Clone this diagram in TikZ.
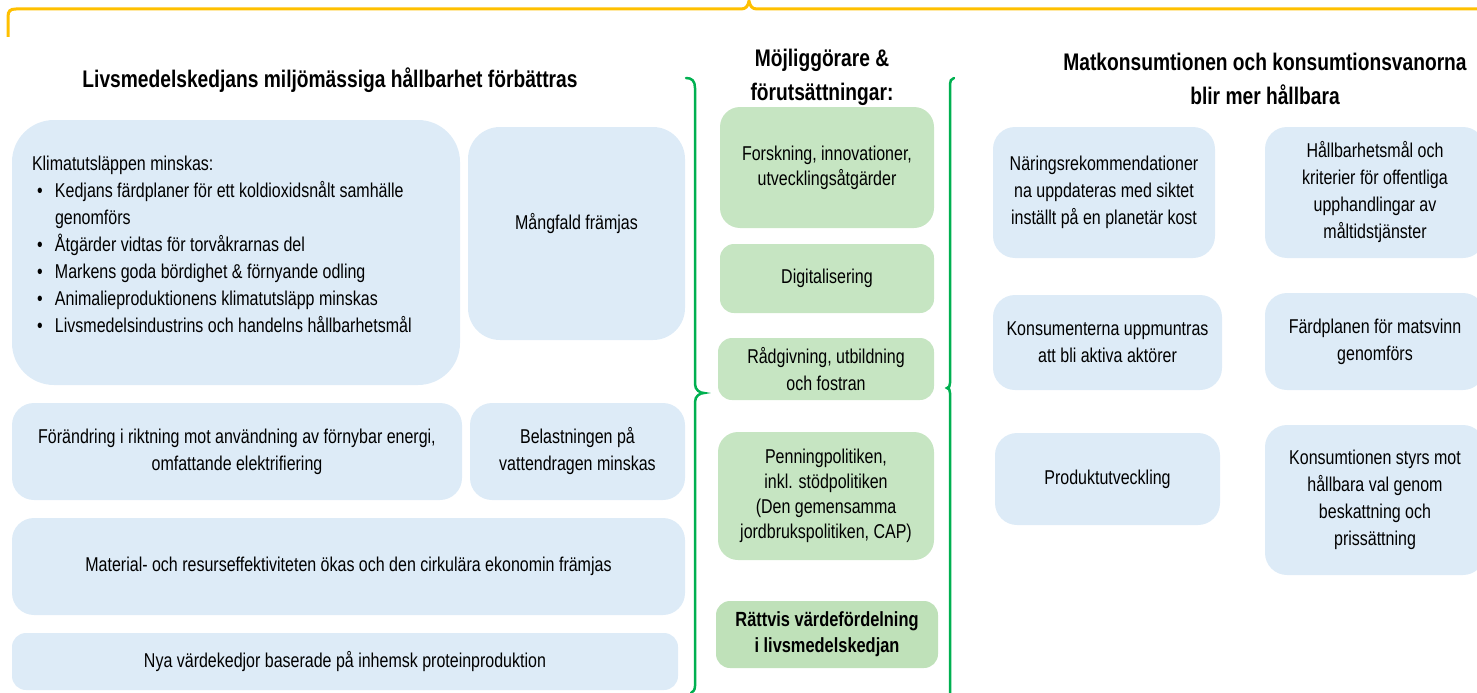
\documentclass[tikz,border=0pt]{standalone}
\usepackage{fontspec}
\setmainfont[FakeStretch=0.8]{Liberation Sans}
\definecolor{boxblue}{HTML}{DDEBF7}
\definecolor{boxgreen}{HTML}{C6E5C2}
\definecolor{boxgreendark}{HTML}{BFE1B9}
\definecolor{bracegreen}{HTML}{00B050}
\definecolor{braceorange}{HTML}{FFC000}
\begin{document}
\begin{tikzpicture}[x=1pt,y=-1pt,
bluebox/.style={fill=boxblue,rounded corners=22pt,align=center,inner sep=0pt,font=\fontsize{20}{27}\selectfont},
greenbox/.style={fill=boxgreen,rounded corners=20pt,align=center,inner sep=0pt,font=\fontsize{20}{25}\selectfont},
heading/.style={font=\bfseries\fontsize{24}{34}\selectfont,align=center},
bracket/.style={line width=2.5pt,color=bracegreen,line cap=round}]
\useasboundingbox (0,0) rectangle (1477,693);
\clip (0,0) rectangle (1477,693);

\draw[line width=3pt,color=braceorange] (8,37) -- (8,17) .. controls (8,11) and (10,9) .. (16,9) -- (741,9) .. controls (746,9) and (748,6) .. (749,1) .. controls (750,6) and (752,9) .. (757,9) -- (1490,9);

\node[heading] (lefttitle) at (330,80) {Livsmedelskedjans miljömässiga hållbarhet förbättras};
\node[heading] (midtitle) at (822,77) {Möjliggörare \&\\förutsättningar:};
\node[heading] (righttitle) at (1265,79) {Matkonsumtionen och konsumtionsvanorna\\blir mer hållbara};

\node[bluebox,rounded corners=42pt,minimum width=448pt,minimum height=265pt,text width=408pt,align=left] (klimat) at (236,252.5) {\spaceskip=0pt\xspaceskip=0pt Klimatutsläppen minskas:\\
\hspace*{5pt}\makebox[18pt][l]{\textbullet}Kedjans färdplaner för ett koldioxidsnålt samhälle\\
\hspace*{23pt}genomförs\\
\hspace*{5pt}\makebox[18pt][l]{\textbullet}Åtgärder vidtas för torvåkrarnas del\\
\hspace*{5pt}\makebox[18pt][l]{\textbullet}Markens goda bördighet \& förnyande odling\\
\hspace*{5pt}\makebox[18pt][l]{\textbullet}Animalieproduktionens klimatutsläpp minskas\\
\hspace*{5pt}\makebox[18pt][l]{\textbullet}Livsmedelsindustrins och handelns hållbarhetsmål\\[-10pt]\mbox{}};
\node[bluebox,rounded corners=32pt,minimum width=217pt,minimum height=213pt] (mangfald) at (576.5,233.5) {Mångfald främjas\\[-3pt]\mbox{}};
\node[bluebox,minimum width=450pt,minimum height=97pt] (forandring) at (237,451.5) {Förändring i riktning mot användning av förnybar energi,\\omfattande elektrifiering};
\node[bluebox,minimum width=215pt,minimum height=97pt] (belastning) at (577.5,451.5) {Belastningen på\\vattendragen minskas};
\node[bluebox,minimum width=673pt,minimum height=97pt] (material) at (348.5,566.5) {Material- och resurseffektiviteten ökas och den cirkulära ekonomin främjas};
\node[bluebox,rounded corners=14pt,minimum width=666pt,minimum height=57pt] (nya) at (345,661.5) {Nya värdekedjor baserade på inhemsk proteinproduktion};

\draw[bracket] (686,78) .. controls (692,78) and (695,81) .. (695,88) -- (695,384) .. controls (695,390) and (700,393) .. (704,393) .. controls (700,393) and (695,396) .. (695,402) -- (695,686) .. controls (695,690) and (693,692) .. (691,693);

\node[greenbox,minimum width=214pt,minimum height=121pt] (forskning) at (827,167.5) {Forskning, innovationer,\\utvecklingsåtgärder};
\node[greenbox,rounded corners=14pt,minimum width=214pt,minimum height=69pt] (digital) at (827,278.5) {Digitalisering};
\node[greenbox,rounded corners=14pt,minimum width=216pt,minimum height=62pt,font=\fontsize{20}{27}\selectfont] (radgivning) at (826,369) {Rådgivning, utbildning\\och fostran};
\node[greenbox,minimum width=216pt,minimum height=128pt] (penning) at (826,496) {Penningpolitiken,\\inkl. stödpolitiken\\(Den gemensamma\\jordbrukspolitiken, CAP)};
\node[greenbox,fill=boxgreendark,rounded corners=14pt,minimum width=222pt,minimum height=67pt,font=\bfseries\fontsize{20.5}{26}\selectfont] (rattvis) at (827,634.5) {Rättvis värdefördelning\\i livsmedelskedjan};

\draw[bracket] (954,78) .. controls (951,79) and (950,81) .. (950,84) -- (950,383) .. controls (950,386) and (949,388) .. (947,388) .. controls (949,388) and (950,390) .. (950,393) -- (950,700);

\node[bluebox,minimum width=222pt,minimum height=131pt] (naring) at (1104,192.5) {Näringsrekommendationer\\na uppdateras med siktet\\inställt på en planetär kost};
\node[bluebox,minimum width=220pt,minimum height=131pt] (hallbar) at (1375,192.5) {Hållbarhetsmål och\\kriterier för offentliga\\upphandlingar av\\måltidstjänster};
\node[bluebox,minimum width=229pt,minimum height=95pt] (konsument) at (1107.5,342.5) {Konsumenterna uppmuntras\\att bli aktiva aktörer};
\node[bluebox,minimum width=220pt,minimum height=97pt] (fardplan) at (1375,341.5) {Färdplanen för matsvinn\\genomförs};
\node[bluebox,minimum width=225pt,minimum height=92pt] (produkt) at (1107.5,479) {Produktutveckling};
\node[bluebox,minimum width=220pt,minimum height=150pt] (konsumtion) at (1375,500) {Konsumtionen styrs mot\\hållbara val genom\\beskattning och\\prissättning};
\end{tikzpicture}
\end{document}
